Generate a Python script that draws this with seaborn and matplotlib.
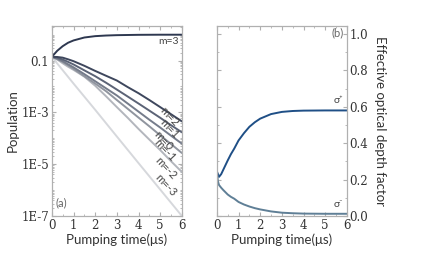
import numpy as np
import pandas as pd
import matplotlib
matplotlib.use("Agg")
import matplotlib.pyplot as plt
import matplotlib.ticker as mticker
import seaborn as sns

# =========================
# 1. DATA
# =========================
t_m3 = [0, 0.25, 0.5, 0.75, 1, 1.5, 2, 2.5, 3, 4, 5, 6]
pop_m3 = [0.14, 0.24, 0.36, 0.49, 0.6, 0.78, 0.88, 0.93, 0.96, 0.99, 1.0, 1.0]

t_dec = [0, 0.25, 0.5, 0.75, 1, 1.5, 2, 2.5, 3, 3.5, 4, 4.5, 5, 5.5, 6]
pop_m2 = [0.14, 0.138, 0.13, 0.112, 0.095, 0.063, 0.04, 0.026, 0.017, 0.0095,
          0.0055, 0.003, 0.0016, 8.5e-4, 4.5e-4]
pop_m1 = [0.14, 0.129, 0.11, 0.089, 0.071, 0.042, 0.025, 0.014, 0.0076, 0.0041,
          0.0022, 0.00117, 6.2e-4, 3.2e-4, 1.7e-4]
pop_m0 = [0.14, 0.12, 0.095, 0.072, 0.055, 0.03, 0.016, 0.0085, 0.0045, 0.0022,
          0.00107, 5.2e-4, 2.6e-4, 1.26e-4, 6.2e-5]
pop_mm1 = [0.14, 0.115, 0.089, 0.066, 0.048, 0.025, 0.013, 0.0066, 0.003, 0.00138,
           6.3e-4, 2.9e-4, 1.3e-4, 6e-5, 2.7e-5]
pop_mm2 = [0.14, 0.11, 0.079, 0.058, 0.044, 0.024, 0.0107, 0.0042, 0.0016, 6.2e-4,
           2.3e-4, 8.9e-5, 3.5e-5, 1.3e-5, 5e-6]
t_m3low = [0, 1, 2, 3, 4, 5, 6]
pop_mm3 = [0.14, 0.013, 1.26e-3, 1.17e-4, 1.1e-5, 1.05e-6, 1e-7]

state_labels = ["m=3", "m=2", "m=1", "m=0", "m=-1", "m=-2", "m=-3"]
state_colors = ["#2e3850", "#3e475d", "#5b6376", "#757c8b", "#90959f", "#b3b6bd", "#d6d8dc"]

t_sig = [0, 0.05, 0.1, 0.2, 0.3, 0.4, 0.5, 0.65, 0.8, 1, 1.25, 1.5, 1.75, 2,
         2.5, 3, 3.5, 4, 5, 6]
sig_plus = [0.245, 0.23, 0.215, 0.23, 0.255, 0.28, 0.305, 0.34, 0.37, 0.415, 0.455,
            0.49, 0.515, 0.535, 0.56, 0.572, 0.577, 0.579, 0.58, 0.58]
sig_minus = [0.245, 0.19, 0.17, 0.155, 0.142, 0.13, 0.118, 0.105, 0.095, 0.077, 0.063,
             0.052, 0.043, 0.036, 0.025, 0.018, 0.015, 0.013, 0.012, 0.012]

# =========================
# 2. LONG TABLES
# =========================
rows = []
for t, v in zip(t_m3, pop_m3):
    rows.append({"t": t, "pop": v, "state": "m=3"})
for lab, vals in zip(state_labels[1:6], [pop_m2, pop_m1, pop_m0, pop_mm1, pop_mm2]):
    for t, v in zip(t_dec, vals):
        rows.append({"t": t, "pop": v, "state": lab})
for t, v in zip(t_m3low, pop_mm3):
    rows.append({"t": t, "pop": v, "state": "m=-3"})
df_pop = pd.DataFrame(rows)

df_sig = pd.DataFrame({
    "t": t_sig + t_sig,
    "val": sig_plus + sig_minus,
    "pol": ["plus"] * len(t_sig) + ["minus"] * len(t_sig),
})

# =========================
# 3. PLOT
# =========================
sns.set_style("ticks")
plt.rcParams["font.family"] = ["Lato", "DejaVu Sans"]

fig = plt.figure(figsize=(4.32, 2.72), dpi=100)
ax1 = fig.add_axes([0.120, 0.206, 0.301, 0.699])
ax2 = fig.add_axes([0.502, 0.206, 0.301, 0.699])

spine_col = "#b0b0b0"
tick_font = {"family": "DejaVu Serif", "size": 8.5}

# panel (a)
sns.lineplot(data=df_pop, x="t", y="pop", hue="state", hue_order=state_labels[::-1],
             palette=dict(zip(state_labels, state_colors)), linewidth=1.4,
             legend=False, ax=ax1)
ax1.set_yscale("log")
ax1.set_xlim(0, 6)
ax1.set_ylim(1e-7, 2.2)
ax1.set_yticks([1e-7, 1e-5, 1e-3, 1e-1])
ax1.set_yticklabels(["1E-7", "1E-5", "1E-3", "0.1"], fontdict=tick_font)
ax1.yaxis.set_minor_locator(mticker.LogLocator(base=10, subs=np.arange(1, 10), numticks=20))
ax1.yaxis.set_minor_formatter(mticker.NullFormatter())
ax1.set_xticks(range(7))
ax1.set_xticklabels([str(i) for i in range(7)], fontdict=tick_font)
ax1.xaxis.set_minor_locator(mticker.MultipleLocator(0.5))
ax1.set_xlabel("Pumping time(μs)", fontsize=9.5, color="#333333", labelpad=1)
ax1.set_ylabel("Population", fontsize=9.5, color="#333333", labelpad=2)
ax1.text(0.15, 2.3e-7, "(a)", fontsize=8, color="#666666")
ax1.text(5.85, 0.55, "m=3", fontsize=7.5, color="#444444", ha="right", va="center")

label_pos = [(5.4, 7.0e-4, "m=2"), (5.4, 2.4e-4, "m=1"), (5.15, 8.4e-5, "m=0"),
             (5.2, 3.6e-5, "m=-1"), (5.25, 7.0e-6, "m=-2"), (5.25, 1.5e-6, "m=-3")]
for x, y, lab in label_pos:
    ax1.text(x, y, lab, fontsize=8, color="#444444", rotation=-47,
             ha="center", va="center", rotation_mode="anchor")

# panel (b)
sns.lineplot(data=df_sig, x="t", y="val", hue="pol",
             palette={"plus": "#1f4f86", "minus": "#5f7f96"}, linewidth=1.4,
             legend=False, ax=ax2)
ax2.set_xlim(0, 6)
ax2.set_ylim(0, 1.045)
ax2.set_yticks([0, 0.2, 0.4, 0.6, 0.8, 1.0])
ax2.set_yticklabels(["0.0", "0.2", "0.4", "0.6", "0.8", "1.0"], fontdict=tick_font)
ax2.yaxis.set_minor_locator(mticker.MultipleLocator(0.1))
ax2.set_xticks(range(7))
ax2.set_xticklabels([str(i) for i in range(7)], fontdict=tick_font)
ax2.xaxis.set_minor_locator(mticker.MultipleLocator(0.5))
ax2.set_xlabel("Pumping time(μs)", fontsize=9.5, color="#333333", labelpad=1)
ax2.set_ylabel("Effective optical depth factor", fontsize=9.5, color="#333333",
               rotation=-90, labelpad=13)
ax2.yaxis.set_label_position("right")
ax2.text(5.85, 0.985, "(b)", fontsize=8, color="#666666", ha="right")
ax2.text(5.85, 0.62, "σ⁺", fontsize=7.5, color="#444444", ha="right")
ax2.text(5.85, 0.05, "σ⁻", fontsize=7.5, color="#444444", ha="right")

for ax in (ax1, ax2):
    for s in ax.spines.values():
        s.set_visible(True)
        s.set_color(spine_col)
        s.set_linewidth(0.9)
    ax.tick_params(which="both", direction="in", top=True, right=True,
                   color=spine_col, labelcolor="#333333", pad=2)
    ax.tick_params(which="major", length=3)
    ax.tick_params(which="minor", length=1.5)
ax2.tick_params(labelleft=False, labelright=True)

fig.savefig("out.png", dpi=100)
